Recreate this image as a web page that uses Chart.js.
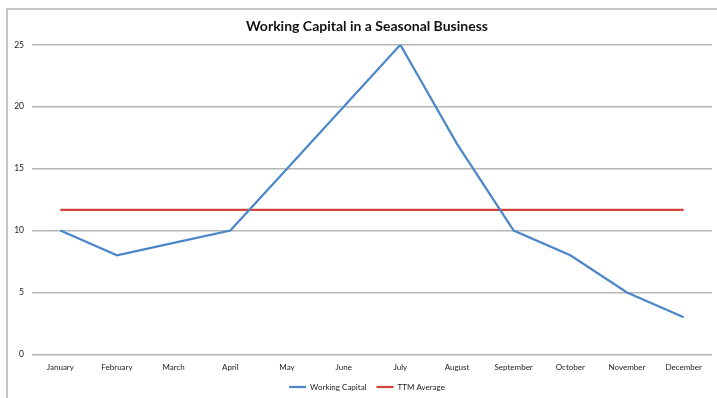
<!DOCTYPE html>
<html>
<head>
<meta charset="utf-8">
<script src="https://cdn.jsdelivr.net/npm/chart.js@4/dist/chart.umd.min.js"></script>
<style>
  html, body { margin: 0; padding: 0; background: #fff; overflow: hidden; }
  #wrap { position: absolute; left: 0; top: 0; width: 717px; height: 398px; overflow: hidden; }
  #frame { position: absolute; left: 6px; top: 8px; width: 720px; height: 400px;
           border-left: 2px solid #c6c6c6; border-top: 2px solid #c6c6c6; }
  canvas { position: absolute; left: 0; top: 0; }
</style>
</head>
<body>
<div id="wrap">
  <div id="frame"></div>
  <canvas id="c" width="734" height="401"></canvas>
</div>
<script>
const categories = ["January","February","March","April","May","June","July","August","September","October","November","December"];
const workingCapital = [10, 8, 9, 10, 15, 20, 25, 17, 10, 8, 5, 3];
const ttmAverage = [11.67, 11.67, 11.67, 11.67, 11.67, 11.67, 11.67, 11.67, 11.67, 11.67, 11.67, 11.67];
const yTicks = [0, 5, 10, 15, 20, 25];

const FONT = "Lato, 'Open Sans', sans-serif";

new Chart(document.getElementById('c'), {
  type: 'line',
  data: {
    labels: categories,
    datasets: [
      { label: 'Working Capital', data: workingCapital, borderColor: '#4a86c8', backgroundColor: '#4a86c8',
        borderWidth: 2.2, pointRadius: 0, pointStyle: 'line', tension: 0, fill: false },
      { label: 'TTM Average', data: ttmAverage, borderColor: '#d2443a', backgroundColor: '#d2443a',
        borderWidth: 2.2, pointRadius: 0, pointStyle: 'line', tension: 0, fill: false }
    ]
  },
  options: {
    responsive: false,
    animation: false,
    devicePixelRatio: 1,
    layout: { padding: { left: 0, right: 0, top: 8, bottom: 0 } },
    plugins: {
      title: { display: true, text: 'Working Capital in a Seasonal Business', color: '#111',
               font: { family: FONT, size: 14, weight: 'bold' }, padding: { top: 10, bottom: 10 } },
      legend: { position: 'bottom',
        labels: { usePointStyle: true, pointStyleWidth: 17, boxHeight: 8, padding: 10, color: '#222',
                  font: { family: FONT, size: 8 } } },
      tooltip: { enabled: false }
    },
    scales: {
      x: { offset: true,
        afterFit: (s) => { s.height -= 7; },
        grid: { display: false, drawTicks: false },
        border: { display: false },
        ticks: { color: '#222', font: { family: FONT, size: 8 }, padding: 8, maxRotation: 0, autoSkip: false } },
      y: { min: 0, max: 25,
        afterFit: (s) => { s.width = 32; },
        afterBuildTicks: (s) => { s.ticks = yTicks.map(v => ({ value: v })); },
        grid: { color: '#b5b5b5', lineWidth: 1.5, drawTicks: false },
        border: { display: false },
        ticks: { color: '#222', font: { family: FONT, size: 8.5 }, padding: 8 } },
      yRight: { position: 'right', min: 0, max: 25,
        afterFit: (s) => { s.width = 22; },
        grid: { display: false, drawTicks: false },
        border: { display: false },
        ticks: { display: false } }
    }
  }
});
</script>
</body>
</html>
